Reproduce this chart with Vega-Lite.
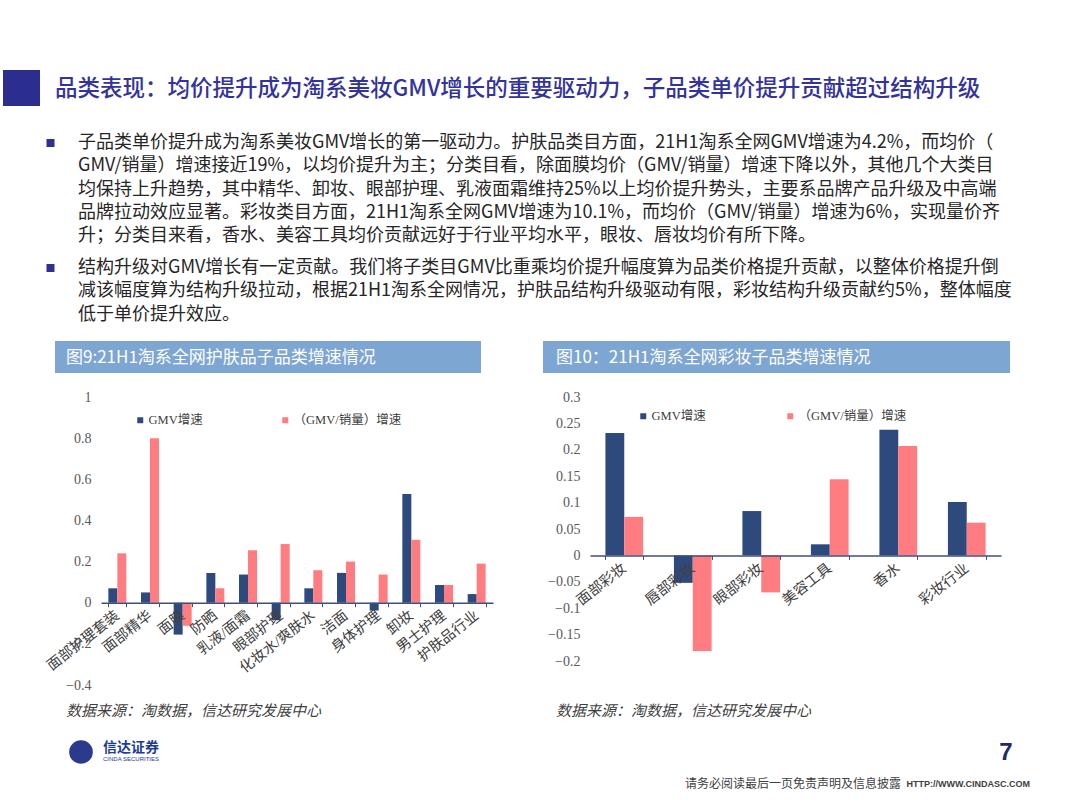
{
  "$schema": "https://vega.github.io/schema/vega-lite/v6.json",
  "background": "#ffffff",
  "padding": 0,
  "columns": 3,
  "align": "each",
  "bounds": "flush",
  "spacing": {"row": 0, "column": 97},
  "config": {
    "view": {"stroke": null},
    "font": "Noto Sans CJK SC"
  },
  "resolve": {"scale": {"color": "independent", "x": "independent", "y": "independent", "xOffset": "independent"}, "legend": {"color": "independent"}},
  "datasets": {
    "skincare": [
      {"category": "面部护理套装", "series": "GMV增速", "value": 0.07},
      {"category": "面部护理套装", "series": "（GMV/销量）增速", "value": 0.24},
      {"category": "面部精华", "series": "GMV增速", "value": 0.05},
      {"category": "面部精华", "series": "（GMV/销量）增速", "value": 0.8},
      {"category": "面膜", "series": "GMV增速", "value": -0.155},
      {"category": "面膜", "series": "（GMV/销量）增速", "value": -0.112},
      {"category": "防晒", "series": "GMV增速", "value": 0.145},
      {"category": "防晒", "series": "（GMV/销量）增速", "value": 0.07},
      {"category": "乳液/面霜", "series": "GMV增速", "value": 0.137},
      {"category": "乳液/面霜", "series": "（GMV/销量）增速", "value": 0.255},
      {"category": "眼部护理", "series": "GMV增速", "value": -0.085},
      {"category": "眼部护理", "series": "（GMV/销量）增速", "value": 0.285},
      {"category": "化妆水/爽肤水", "series": "GMV增速", "value": 0.07},
      {"category": "化妆水/爽肤水", "series": "（GMV/销量）增速", "value": 0.158},
      {"category": "洁面", "series": "GMV增速", "value": 0.145},
      {"category": "洁面", "series": "（GMV/销量）增速", "value": 0.2},
      {"category": "身体护理", "series": "GMV增速", "value": -0.038},
      {"category": "身体护理", "series": "（GMV/销量）增速", "value": 0.137},
      {"category": "卸妆", "series": "GMV增速", "value": 0.528},
      {"category": "卸妆", "series": "（GMV/销量）增速", "value": 0.306},
      {"category": "男士护理", "series": "GMV增速", "value": 0.086},
      {"category": "男士护理", "series": "（GMV/销量）增速", "value": 0.086},
      {"category": "护肤品行业", "series": "GMV增速", "value": 0.042},
      {"category": "护肤品行业", "series": "（GMV/销量）增速", "value": 0.19}
    ],
    "makeup": [
      {"category": "面部彩妆", "series": "GMV增速", "value": 0.232},
      {"category": "面部彩妆", "series": "（GMV/销量）增速", "value": 0.073},
      {"category": "唇部彩妆", "series": "GMV增速", "value": -0.052},
      {"category": "唇部彩妆", "series": "（GMV/销量）增速", "value": -0.181},
      {"category": "眼部彩妆", "series": "GMV增速", "value": 0.084},
      {"category": "眼部彩妆", "series": "（GMV/销量）增速", "value": -0.07},
      {"category": "美容工具", "series": "GMV增速", "value": 0.021},
      {"category": "美容工具", "series": "（GMV/销量）增速", "value": 0.144},
      {"category": "香水", "series": "GMV增速", "value": 0.238},
      {"category": "香水", "series": "（GMV/销量）增速", "value": 0.207},
      {"category": "彩妆行业", "series": "GMV增速", "value": 0.101},
      {"category": "彩妆行业", "series": "（GMV/销量）增速", "value": 0.062}
    ],
    "paragraphs": [
      {"para": "1", "text": "子品类单价提升成为淘系美妆GMV增长的第一驱动力。护肤品类目方面，21H1淘系全网GMV增速为4.2%，而均价（\nGMV/销量）增速接近19%，以均价提升为主；分类目看，除面膜均价（GMV/销量）增速下降以外，其他几个大类目\n均保持上升趋势，其中精华、卸妆、眼部护理、乳液面霜维持25%以上均价提升势头，主要系品牌产品升级及中高端\n品牌拉动效应显著。彩妆类目方面，21H1淘系全网GMV增速为10.1%，而均价（GMV/销量）增速为6%，实现量价齐\n升；分类目来看，香水、美容工具均价贡献远好于行业平均水平，眼妆、唇妆均价有所下降。"},
      {"para": "2", "text": "结构升级对GMV增长有一定贡献。我们将子类目GMV比重乘均价提升幅度算为品类价格提升贡献，以整体价格提升倒\n减该幅度算为结构升级拉动，根据21H1淘系全网情况，护肤品结构升级驱动有限，彩妆结构升级贡献约5%，整体幅度\n低于单价提升效应。"}
    ]
  },
  "concat": [
    {
      "width": 1,
      "height": 394,
      "layer": [
        {
          "data": {"values": [{"item": "title bar"}]},
          "mark": {"type": "rect", "x": 0, "x2": 37, "y": 67, "y2": 103, "color": "#2B2E8F"}
        },
        {
          "data": {"values": [{"text": "品类表现：均价提升成为淘系美妆GMV增长的重要驱动力，子品类单价提升贡献超过结构升级"}]},
          "mark": {"type": "text", "x": 52, "y": 86, "align": "left", "baseline": "middle", "fontSize": 22.5, "fontWeight": 500, "color": "#33339B"},
          "encoding": {"text": {"field": "text"}}
        },
        {
          "data": {"name": "paragraphs"},
          "mark": {"type": "point", "shape": "square", "filled": true, "size": 64, "color": "#2E3192", "opacity": 1, "x": 47.5, "yOffset": 9},
          "encoding": {"y": {"field": "para", "type": "ordinal", "scale": {"type": "point", "range": [131, 256], "padding": 0}, "axis": null}}
        },
        {
          "data": {"name": "paragraphs"},
          "mark": {"type": "text", "x": 75, "align": "left", "baseline": "top", "fontSize": 18, "lineHeight": 23.3, "lineBreak": "\n", "color": "#262626"},
          "encoding": {
            "y": {"field": "para", "type": "ordinal", "scale": {"type": "point", "range": [131, 256], "padding": 0}, "axis": null},
            "text": {"field": "text"}
          }
        },
        {
          "data": {"values": [{"item": "underline 护肤品类目方面"}]},
          "mark": {"type": "rule", "x": 509, "x2": 635, "y": 151, "color": "#262626", "strokeWidth": 1},
          "encoding": {}
        },
        {
          "data": {"values": [{"item": "underline 彩妆类目方面"}]},
          "mark": {"type": "rule", "x": 237, "x2": 345, "y": 221, "color": "#262626", "strokeWidth": 1},
          "encoding": {}
        },
        {
          "data": {"values": [{"item": "figure 9 header"}]},
          "mark": {"type": "rect", "x": 52, "x2": 478, "y": 338, "y2": 370, "color": "#7EA6D2"}
        },
        {
          "data": {"values": [{"item": "figure 10 header"}]},
          "mark": {"type": "rect", "x": 540, "x2": 1007, "y": 338, "y2": 370, "color": "#7EA6D2"}
        },
        {
          "data": {"values": [{"text": "图9:21H1淘系全网护肤品子品类增速情况"}]},
          "mark": {"type": "text", "x": 63, "y": 355, "align": "left", "baseline": "middle", "fontSize": 17, "color": "#ffffff"},
          "encoding": {"text": {"field": "text"}}
        },
        {
          "data": {"values": [{"text": "图10：21H1淘系全网彩妆子品类增速情况"}]},
          "mark": {"type": "text", "x": 553, "y": 355, "align": "left", "baseline": "middle", "fontSize": 17, "color": "#ffffff"},
          "encoding": {"text": {"field": "text"}}
        }
      ]
    },
    {
      "width": 1,
      "height": 1,
      "data": {"values": [{"item": "spacer"}]},
      "mark": {"type": "point", "opacity": 0}
    },
    {
      "width": 1,
      "height": 1,
      "data": {"values": [{"item": "spacer"}]},
      "mark": {"type": "point", "opacity": 0}
    },
    {
      "width": 1,
      "height": 1,
      "data": {"values": [{"item": "spacer"}]},
      "mark": {"type": "point", "opacity": 0}
    },
    {
      "width": 392,
      "height": 288,
      "data": {"name": "skincare"},
      "mark": {"type": "bar"},
      "encoding": {
        "x": {
          "field": "category", "type": "nominal", "sort": null, "title": null,
          "scale": {"paddingInner": 0.45, "paddingOuter": 0.225},
          "axis": {"offset": -82.3, "labelAngle": -38, "labelAlign": "right", "labelBaseline": "middle", "labelFont": "Liberation Serif, Noto Sans CJK SC", "labelFontSize": 14.5, "labelColor": "#404040", "domainColor": "#3E4F7E", "domainWidth": 1.5, "tickColor": "#3E4F7E", "tickBand": "extent", "tickSize": 4, "labelPadding": 7, "labelOverlap": false, "labelLimit": 300, "zindex": 1}
        },
        "xOffset": {"field": "series", "type": "nominal", "sort": ["GMV增速", "（GMV/销量）增速"]},
        "y": {
          "field": "value", "type": "quantitative", "title": null,
          "scale": {"domain": [-0.4, 1], "nice": false, "zero": false},
          "axis": {"values": [-0.4, -0.2, 0, 0.2, 0.4, 0.6, 0.8, 1], "format": ".2~f", "domain": false, "ticks": false, "grid": false, "labelPadding": 10, "labelFont": "Liberation Serif", "labelFontSize": 14, "labelColor": "#595959"}
        },
        "color": {
          "field": "series", "type": "nominal", "sort": ["GMV增速", "（GMV/销量）增速"], "title": null,
          "scale": {"domain": ["GMV增速", "（GMV/销量）增速"], "range": ["#2E4A7D", "#FF7C80"]},
          "legend": {"orient": "none", "legendX": 33, "legendY": 17, "direction": "horizontal", "gridAlign": "none", "symbolType": "square", "symbolSize": 36, "columnPadding": 76, "labelFont": "Liberation Serif, Noto Sans CJK SC", "labelFontSize": 12.5, "labelColor": "#404040", "labelOffset": 2, "padding": 0}
        }
      }
    },
    {
      "width": 411,
      "height": 264,
      "data": {"name": "makeup"},
      "mark": {"type": "bar"},
      "encoding": {
        "x": {
          "field": "category", "type": "nominal", "sort": null, "title": null,
          "scale": {"paddingInner": 0.45, "paddingOuter": 0.225},
          "axis": {"offset": -105.6, "labelAngle": -38, "labelAlign": "right", "labelBaseline": "middle", "labelFont": "Liberation Serif, Noto Sans CJK SC", "labelFontSize": 14.5, "labelColor": "#404040", "domainColor": "#3E4F7E", "domainWidth": 1.5, "tickColor": "#3E4F7E", "tickBand": "extent", "tickSize": 4, "labelPadding": 7, "labelOverlap": false, "labelLimit": 300, "zindex": 1}
        },
        "xOffset": {"field": "series", "type": "nominal", "sort": ["GMV增速", "（GMV/销量）增速"]},
        "y": {
          "field": "value", "type": "quantitative", "title": null,
          "scale": {"domain": [-0.2, 0.3], "nice": false, "zero": false},
          "axis": {"values": [-0.2, -0.15, -0.1, -0.05, 0, 0.05, 0.1, 0.15, 0.2, 0.25, 0.3], "format": ".2~f", "domain": false, "ticks": false, "grid": false, "labelPadding": 10, "labelFont": "Liberation Serif", "labelFontSize": 14, "labelColor": "#595959"}
        },
        "color": {
          "field": "series", "type": "nominal", "sort": ["GMV增速", "（GMV/销量）增速"], "title": null,
          "scale": {"domain": ["GMV增速", "（GMV/销量）增速"], "range": ["#2E4A7D", "#FF7C80"]},
          "legend": {"orient": "none", "legendX": 47, "legendY": 13, "direction": "horizontal", "gridAlign": "none", "symbolType": "square", "symbolSize": 36, "columnPadding": 78, "labelFont": "Liberation Serif, Noto Sans CJK SC", "labelFontSize": 12.5, "labelColor": "#404040", "labelOffset": 2, "padding": 0}
        }
      }
    },
    {
      "width": 1,
      "height": 128,
      "layer": [
        {
          "data": {"values": [{"text": "数据来源：淘数据，信达研究发展中心"}]},
          "mark": {"type": "text", "x": 63, "y": 26, "align": "left", "baseline": "middle", "fontSize": 15, "fontStyle": "italic", "color": "#3F3F3F"},
          "encoding": {"text": {"field": "text"}}
        },
        {
          "data": {"values": [{"text": "数据来源：淘数据，信达研究发展中心"}]},
          "mark": {"type": "text", "x": 553, "y": 26, "align": "left", "baseline": "middle", "fontSize": 15, "fontStyle": "italic", "color": "#3F3F3F"},
          "encoding": {"text": {"field": "text"}}
        },
        {
          "data": {"values": [{"item": "footer rule"}]},
          "mark": {"type": "rule", "x": 53, "x2": 1028, "y": 39, "color": "#A6A6A6", "strokeWidth": 2},
          "encoding": {}
        },
        {
          "data": {"values": [{"item": "logo"}]},
          "mark": {"type": "point", "shape": "circle", "filled": true, "size": 560, "color": "#2B3A8C", "opacity": 1, "x": 78, "y": 67}
        },
        {
          "data": {"values": [{"item": "logo stripe"}]},
          "mark": {"type": "rule", "x": 62, "x2": 92, "y": 56, "y2": 77, "color": "#E0303C", "strokeWidth": 4},
          "encoding": {}
        },
        {
          "data": {"values": [{"item": "logo stripe 2"}]},
          "mark": {"type": "rule", "x": 64, "x2": 94, "y": 61, "y2": 81, "color": "#ffffff", "strokeWidth": 1.5},
          "encoding": {}
        },
        {
          "data": {"values": [{"text": "信达证券"}]},
          "mark": {"type": "text", "x": 100, "y": 63, "align": "left", "baseline": "middle", "fontSize": 14, "fontWeight": "bold", "color": "#1C3D93"},
          "encoding": {"text": {"field": "text"}}
        },
        {
          "data": {"values": [{"text": "CINDA SECURITIES"}]},
          "mark": {"type": "text", "x": 100, "y": 74, "align": "left", "baseline": "middle", "fontSize": 6, "color": "#1C3D93", "font": "Liberation Sans"},
          "encoding": {"text": {"field": "text"}}
        },
        {
          "data": {"values": [{"text": "7"}]},
          "mark": {"type": "text", "x": 1003, "y": 68, "align": "center", "baseline": "middle", "fontSize": 24, "fontWeight": "bold", "color": "#1F2A6E", "font": "Liberation Sans"},
          "encoding": {"text": {"field": "text"}}
        },
        {
          "data": {"values": [{"text": "请务必阅读最后一页免责声明及信息披露"}]},
          "mark": {"type": "text", "x": 898, "y": 99, "align": "right", "baseline": "middle", "fontSize": 12, "color": "#404040"},
          "encoding": {"text": {"field": "text"}}
        },
        {
          "data": {"values": [{"text": "HTTP://WWW.CINDASC.COM"}]},
          "mark": {"type": "text", "x": 1027, "y": 99, "align": "right", "baseline": "middle", "fontSize": 9, "fontWeight": "bold", "color": "#404040", "font": "Liberation Sans"},
          "encoding": {"text": {"field": "text"}}
        }
      ]
    }
  ]
}
